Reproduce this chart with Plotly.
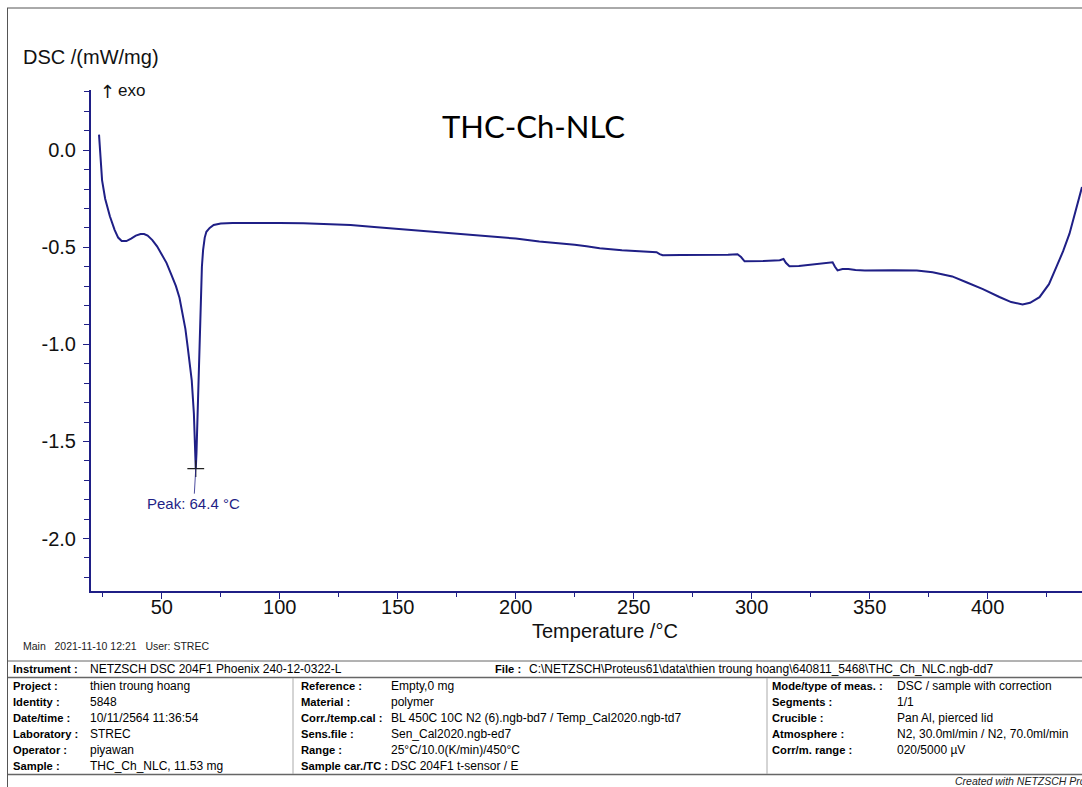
import plotly.graph_objects as go

# DSC heating scan of THC-Ch-NLC (25 -> 450 °C at 10 K/min)
temperature = [
    23.4, 24.0, 24.7, 26.0, 28.0, 30.0, 31.5, 33.0, 35.0, 37.0, 39.0, 41.0, 42.5,
    44.0, 46.0, 48.0, 50.0, 52.0, 54.0, 56.0, 57.5, 58.9, 60.0, 61.0, 62.0, 62.7,
    63.6, 64.1, 64.4, 64.7, 65.0, 65.8, 66.5, 67.0, 67.5, 68.2, 68.9, 70.3, 72.0,
    75.0, 80.0, 90.0, 100.0, 110.0, 120.0, 130.0, 140.0, 150.0, 160.0, 170.0,
    180.0, 190.0, 200.0, 210.0, 220.0, 225.0, 230.0, 235.6, 245.0, 255.0, 259.7,
    261.0, 262.3, 270.0, 280.0, 290.0, 294.0, 295.5, 297.0, 300.0, 305.0, 311.9,
    313.5, 314.5, 316.0, 320.0, 325.0, 330.0, 334.3, 335.3, 336.4, 338.5, 341.0,
    344.0, 348.0, 360.0, 370.0, 376.7, 385.0, 391.0, 398.0, 405.0, 410.0, 414.8,
    418.0, 422.0, 426.0, 429.2, 432.0, 434.7, 437.5, 440.0,
]
dsc = [
    0.08, -0.02, -0.155, -0.25, -0.34, -0.41, -0.45, -0.468, -0.468, -0.455, -0.44,
    -0.432, -0.432, -0.44, -0.463, -0.495, -0.535, -0.58, -0.64, -0.70, -0.76,
    -0.84, -0.92, -1.015, -1.11, -1.186, -1.356, -1.53, -1.64, -1.56, -1.44, -1.10,
    -0.76, -0.60, -0.515, -0.45, -0.42, -0.40, -0.385, -0.377, -0.375, -0.374,
    -0.375, -0.376, -0.38, -0.385, -0.395, -0.405, -0.415, -0.425, -0.435, -0.445,
    -0.455, -0.47, -0.48, -0.487, -0.495, -0.505, -0.515, -0.522, -0.525, -0.535,
    -0.541, -0.54, -0.54, -0.539, -0.536, -0.55, -0.572, -0.572, -0.571, -0.567,
    -0.56, -0.58, -0.598, -0.596, -0.59, -0.583, -0.577, -0.60, -0.619, -0.612,
    -0.612, -0.617, -0.619, -0.618, -0.62, -0.629, -0.65, -0.68, -0.715, -0.756,
    -0.782, -0.794, -0.786, -0.757, -0.69, -0.60, -0.52, -0.43, -0.31, -0.19,
]
peak_temp = 64.4
peak_dsc = -1.64

y_tickvals = [0.0, -0.5, -1.0, -1.5, -2.0]
x_tickvals = [50, 100, 150, 200, 250, 300, 350, 400]

# Measurement info block below the plot
info_instrument = ("Instrument :", "NETZSCH DSC 204F1 Phoenix 240-12-0322-L")
info_file = ("File :", "C:\\NETZSCH\\Proteus61\\data\\thien troung hoang\\640811_5468\\THC_Ch_NLC.ngb-dd7")
info_left = [
    ("Project :", "thien troung hoang"),
    ("Identity :", "5848"),
    ("Date/time :", "10/11/2564 11:36:54"),
    ("Laboratory :", "STREC"),
    ("Operator :", "piyawan"),
    ("Sample :", "THC_Ch_NLC, 11.53 mg"),
]
info_mid = [
    ("Reference :", "Empty,0 mg"),
    ("Material :", "polymer"),
    ("Corr./temp.cal :", "BL 450C 10C N2 (6).ngb-bd7 / Temp_Cal2020.ngb-td7"),
    ("Sens.file :", "Sen_Cal2020.ngb-ed7"),
    ("Range :", "25°C/10.0(K/min)/450°C"),
    ("Sample car./TC :", "DSC 204F1 t-sensor / E"),
]
info_right = [
    ("Mode/type of meas. :", "DSC / sample with correction"),
    ("Segments :", "1/1"),
    ("Crucible :", "Pan Al, pierced lid"),
    ("Atmosphere :", "N2, 30.0ml/min / N2, 70.0ml/min"),
    ("Corr/m. range :", "020/5000 µV"),
]

W, H = 1082, 787
ML, MR, MT, MB = 91, 0, 90, 196
PW, PH = W - ML - MR, H - MT - MB


def px(x):
    return (x - ML) / PW


def py(y):
    return (H - MB - y) / PH


NAVY = "#1f1f86"
FONT = "Liberation Sans, Arial, sans-serif"

fig = go.Figure()
fig.add_trace(go.Scatter(
    x=temperature, y=dsc, mode="lines",
    line=dict(color=NAVY, width=2), hoverinfo="skip", showlegend=False,
))
fig.add_trace(go.Scatter(
    x=[peak_temp], y=[peak_dsc], mode="markers",
    marker=dict(symbol="cross-thin", size=12, line=dict(color="#222222", width=1.2)),
    hoverinfo="skip", showlegend=False,
))

ann = []
ann.append(dict(
    x=peak_temp, y=peak_dsc, xref="x", yref="y",
    text=f"Peak: {peak_temp} °C", showarrow=True, arrowhead=0, arrowwidth=0.8,
    arrowcolor=NAVY, ax=-2, ay=35, font=dict(family=FONT, size=15, color=NAVY),
))


def label(x, y, text, size=12, color="black", anchor="left", family=FONT):
    ann.append(dict(
        x=px(x), y=py(y), xref="paper", yref="paper", text=text, showarrow=False,
        xanchor=anchor, yanchor="middle", font=dict(family=family, size=size, color=color),
    ))


label(21, 57, "DSC /(mW/mg)", size=20, color="#111111")
label(98, 91, "↑", size=18, color="#111111", family="DejaVu Sans, sans-serif")
label(116, 90, "exo", size=17, color="#111111")
label(605, 631, "Temperature /°C", size=20, color="#111111", anchor="center")
label(533, 126, "THC-Ch-NLC", size=31, color="#000000", anchor="center",
      family="Lato, Open Sans, sans-serif")
label(21, 646, "Main   2021-11-10 12:21   User: STREC", size=10.5, color="#222222")

# info table text
KS = 11.2  # bold key size
VS = 12    # value size
label(11, 669, "<b>" + info_instrument[0] + "</b>", size=KS)
label(88, 669, info_instrument[1], size=VS)
label(493, 669, "<b>" + info_file[0] + "</b>", size=KS)
label(527, 669, info_file[1], size=VS)
row_y = [686, 702, 718, 734, 750, 766]
for (k, v), yy in zip(info_left, row_y):
    label(11, yy, "<b>" + k + "</b>", size=KS)
    label(88, yy, v, size=VS)
for (k, v), yy in zip(info_mid, row_y):
    label(299, yy, "<b>" + k + "</b>", size=KS)
    label(389, yy, v, size=VS)
for (k, v), yy in zip(info_right, row_y):
    label(770, yy, "<b>" + k + "</b>", size=KS)
    label(895, yy, v, size=VS)
label(953, 781, "<i>Created with NETZSCH Proteus</i>", size=10.5, color="#222222")

shapes = []


def hline(y, x0=8, x1=1090, color="#777777", width=1):
    shapes.append(dict(type="line", xref="paper", yref="paper",
                       x0=px(x0), x1=px(x1), y0=py(y), y1=py(y),
                       line=dict(color=color, width=width)))


def vline(x, y0, y1, color="#777777", width=1):
    shapes.append(dict(type="line", xref="paper", yref="paper",
                       x0=px(x), x1=px(x), y0=py(y0), y1=py(y1),
                       line=dict(color=color, width=width)))


# outer frame
hline(8, x0=7, color="#555555")
vline(7.5, 8, 790, color="#555555")
# table rules
hline(661, color="#666666")
hline(677.5, color="#666666", width=1.5)
hline(774.5, color="#666666", width=1.5)
vline(293, 678, 774, color="#aaaaaa")
vline(767, 678, 774, color="#aaaaaa")

fig.update_layout(
    width=W, height=H,
    margin=dict(l=ML, r=MR, t=MT, b=MB, pad=0, autoexpand=False),
    paper_bgcolor="white", plot_bgcolor="white",
    annotations=ann, shapes=shapes, showlegend=False,
    xaxis=dict(
        range=[20, 440], tickvals=x_tickvals, ticks="outside", ticklen=6,
        tickwidth=1, tickcolor=NAVY, showline=True, linecolor=NAVY, linewidth=2,
        showgrid=False, zeroline=False, mirror=False, ticklabelstandoff=-9,
        tickfont=dict(family=FONT, size=20, color="#111111"),
        minor=dict(dtick=25, tick0=0, ticks="outside", ticklen=4, tickcolor=NAVY, showgrid=False),
    ),
    yaxis=dict(
        range=[-2.27, 0.31], tickvals=y_tickvals, ticktext=[f"{v:.1f}" for v in y_tickvals],
        ticks="outside", ticklen=6, tickwidth=1, tickcolor=NAVY,
        showline=True, linecolor=NAVY, linewidth=2, showgrid=False, zeroline=False,
        tickfont=dict(family=FONT, size=20, color="#111111"), ticklabelstandoff=3,
        minor=dict(dtick=0.1, tick0=0, ticks="outside", ticklen=5, tickcolor=NAVY, showgrid=False),
    ),
)

fig.write_html("out.html")
